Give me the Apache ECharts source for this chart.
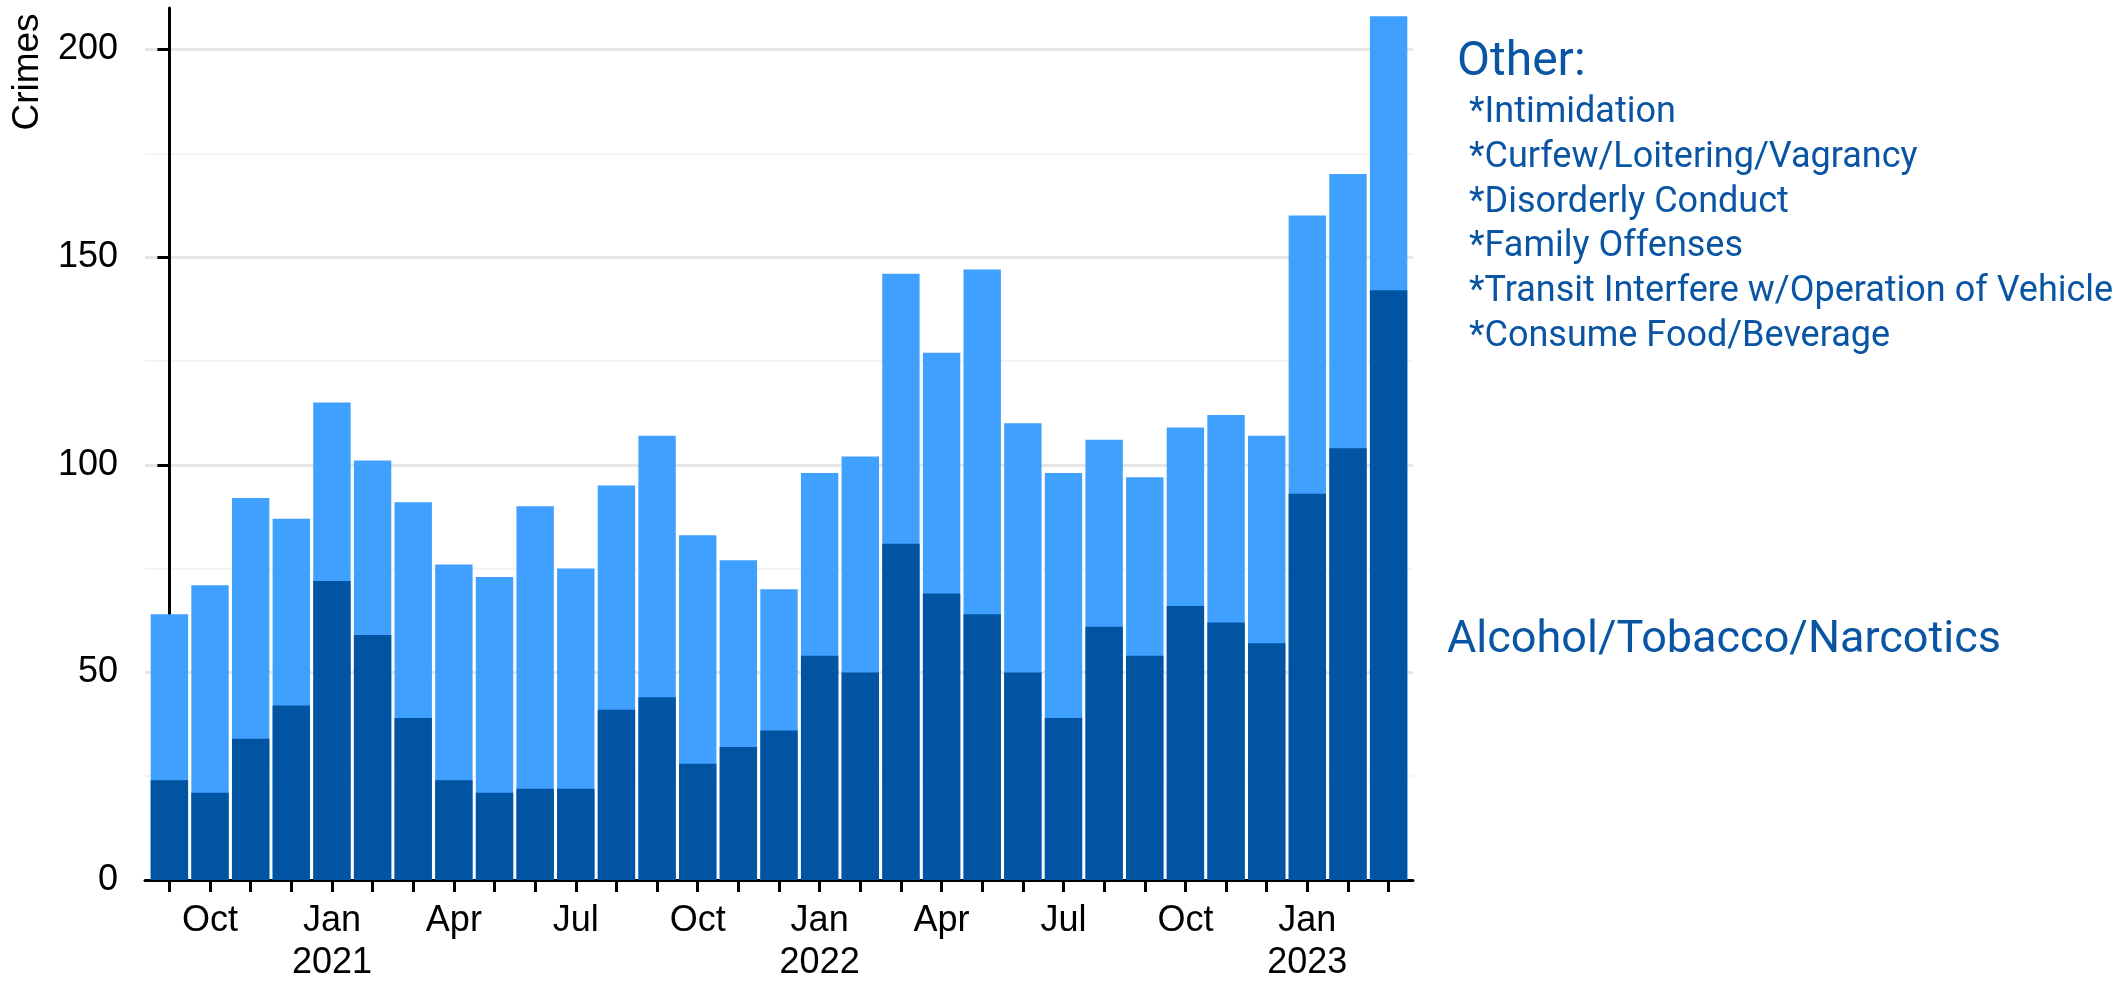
<!DOCTYPE html>
<html>
<head>
	<meta charset="utf-8">
	<title>Crimes</title>
	<script type="text/javascript" src="https://cdn.jsdelivr.net/npm/echarts@6/dist/echarts.min.js"></script>
	<style>
		html, body { margin: 0; padding: 0; background: #fff; }
	</style>
</head>
<body>
<div id="main" style="width: 2126px; height: 984px"></div>

<script type="text/javascript">
// months Sep 2020 .. Mar 2023, one bar each
var months = ['Sep', 'Oct', 'Nov', 'Dec', 'Jan\n2021', 'Feb', 'Mar', 'Apr', 'May', 'Jun', 'Jul', 'Aug',
    'Sep', 'Oct', 'Nov', 'Dec', 'Jan\n2022', 'Feb', 'Mar', 'Apr', 'May', 'Jun', 'Jul', 'Aug',
    'Sep', 'Oct', 'Nov', 'Dec', 'Jan\n2023', 'Feb', 'Mar'];
// only every third month gets a label
var labelIdx = [1, 4, 7, 10, 13, 16, 19, 22, 25, 28];

// bar tops: all crimes (light part shows Other), dark part = Alcohol/Tobacco/Narcotics
var total = [64, 71, 92, 87, 115, 101, 91, 76, 73, 90, 75, 95, 107, 83, 77, 70,
    98, 102, 146, 127, 147, 110, 98, 106, 97, 109, 112, 107, 160, 170, 208];
var alcohol = [24, 21, 34, 42, 72, 59, 39, 24, 21, 22, 22, 41, 44, 28, 32, 36,
    54, 50, 81, 69, 64, 50, 39, 61, 54, 66, 62, 57, 93, 104, 142];

var yTicks = [0, 50, 100, 150, 200];
var yMinor = [25, 75, 125, 175];
var otherItems = ['*Intimidation', '*Curfew/Loitering/Vagrancy', '*Disorderly Conduct',
    '*Family Offenses', '*Transit Interfere w/Operation of Vehicle', '*Consume Food/Beverage'];

var darkBlue = '#0054a2';
var lightBlue = '#3fa0ff';
var noteColor = '#0a55a3';

var myChart = echarts.init(document.getElementById('main'));

var idx = months.map(function (m, i) { return i; });

var graphics = [
    {
        type: 'text', x: 28, y: 72, rotation: Math.PI / 2,
        style: {text: 'Crimes', fontSize: 37, fontFamily: 'Liberation Sans', fill: '#000',
            align: 'center', verticalAlign: 'middle'}
    },
    {
        type: 'text', x: 1457, y: 63,
        style: {text: 'Other:', fontSize: 48, fontFamily: 'Roboto', fill: noteColor,
            align: 'left', verticalAlign: 'middle'}
    },
    {
        type: 'text', x: 1447, y: 641,
        style: {text: 'Alcohol/Tobacco/Narcotics', fontSize: 45, fontFamily: 'Roboto', fill: noteColor,
            align: 'left', verticalAlign: 'middle'}
    }
];
otherItems.forEach(function (t, i) {
    graphics.push({
        type: 'text', x: 1469, y: 113 + i * 44.8,
        style: {text: t, fontSize: 36, fontFamily: 'Roboto', fill: noteColor,
            align: 'left', verticalAlign: 'middle'}
    });
});

option = {
    backgroundColor: '#fff',
    animation: false,
    grid: {
        left: 145,
        right: 713,
        top: 8,
        bottom: 101
    },
    xAxis: {
        type: 'value',
        min: -0.6,
        max: 30.6,
        axisLine: {lineStyle: {color: '#000', width: 3}},
        axisTick: {
            customValues: idx,
            length: 12,
            lineStyle: {color: '#000', width: 3}
        },
        axisLabel: {
            customValues: labelIdx,
            formatter: function (v) { return months[Math.round(v)]; },
            fontSize: 36,
            lineHeight: 42,
            fontFamily: 'Liberation Sans',
            color: '#000',
            margin: 20
        },
        splitLine: {show: false}
    },
    yAxis: [
        {
            type: 'value',
            min: 0,
            max: 210,
            interval: 50,
            axisLine: {show: true, lineStyle: {color: '#000', width: 3}},
            axisTick: {
                show: true,
                customValues: yTicks,
                length: 12,
                lineStyle: {color: '#000', width: 3}
            },
            axisLabel: {
                customValues: yTicks,
                fontSize: 36,
                fontFamily: 'Liberation Sans',
                color: '#000',
                margin: 27
            },
            splitLine: {show: true, lineStyle: {color: '#e6e6e6', width: 3}}
        },
        {
            type: 'value',
            position: 'left',
            min: 0,
            max: 210,
            interval: 25,
            axisLine: {show: false},
            axisTick: {show: false, customValues: yMinor},
            axisLabel: {show: false},
            splitLine: {show: true, lineStyle: {color: '#f4f4f4', width: 2}}
        }
    ],
    series: [
        {
            name: 'Total',
            type: 'bar',
            barWidth: '92%',
            barGap: '-100%',
            itemStyle: {color: lightBlue},
            data: total.map(function (v, i) { return [i, v]; })
        },
        {
            name: 'Alcohol/Tobacco/Narcotics',
            type: 'bar',
            barWidth: '92%',
            barGap: '-100%',
            itemStyle: {color: darkBlue},
            data: alcohol.map(function (v, i) { return [i, v]; })
        }
    ],
    graphic: graphics
};

myChart.setOption(option);
</script>
</body>
</html>
